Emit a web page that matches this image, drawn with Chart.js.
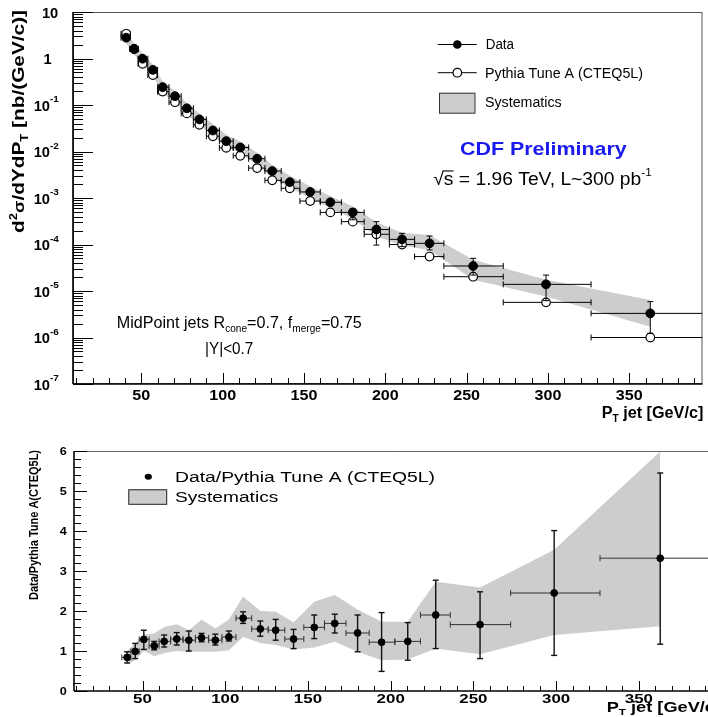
<!DOCTYPE html>
<html>
<head>
<meta charset="utf-8">
<script src="https://cdn.jsdelivr.net/npm/chart.js@4.4.1/dist/chart.umd.min.js"></script>
<style>
  html, body { margin: 0; padding: 0; background: #fff; overflow: hidden; width: 708px; height: 717px; }
  canvas { position: absolute; left: 0; }
  #xsec { top: 0; }
  #ratio { top: 436px; }
</style>
</head>
<body>
<canvas id="xsec" width="708" height="432"></canvas>
<canvas id="ratio" width="720" height="281"></canvas>
<script>
// jet pT bins [GeV/c]
const binCenters = [40.7, 45.6, 50.8, 57.1, 63.1, 70.7, 78.0, 85.7, 94.0, 102.2, 110.8, 121.2, 130.5, 141.3, 153.8, 166.2, 180.0, 194.5, 210.3, 227.2, 254.0, 298.8, 362.9];
const binEdges = [37.5, 43, 48, 54, 60, 67, 74.5, 82, 90, 98, 106.5, 116, 126, 136, 147.5, 160, 173, 187, 202.5, 218, 236, 272.5, 326.5, 400];

// d2sigma/dYdPT [nb/(GeV/c)]
const dataXsec = [2.8, 1.6, 0.99, 0.57, 0.243, 0.155, 0.085, 0.049, 0.0283, 0.0167, 0.0122, 0.0070, 0.0038, 0.0022, 0.00135, 8.1e-4, 4.9e-4, 2.1e-4, 1.29e-4, 1.06e-4, 3.45e-5, 1.39e-5, 3.3e-6];
const dataXsecHigh = [2.95, 1.68, 1.04, 0.6, 0.256, 0.163, 0.09, 0.052, 0.030, 0.0178, 0.013, 0.0075, 0.0041, 0.0024, 0.00148, 9.0e-4, 5.9e-4, 3.1e-4, 1.74e-4, 1.52e-4, 5.05e-5, 2.2e-5, 5.9e-6];
const dataXsecLow = [2.65, 1.52, 0.94, 0.54, 0.23, 0.147, 0.08, 0.046, 0.0266, 0.0156, 0.0114, 0.0065, 0.0035, 0.002, 0.00122, 7.2e-4, 3.4e-4, 9.7e-5, 9.0e-5, 7.6e-5, 2.2e-5, 6.2e-6, 1.23e-6];
const pythiaXsec = [3.4, 1.6, 0.77, 0.44, 0.194, 0.115, 0.066, 0.0375, 0.0213, 0.012, 0.0081, 0.0044, 0.0024, 0.00162, 8.6e-4, 4.9e-4, 3.1e-4, 1.66e-4, 1.0e-4, 5.5e-5, 2.03e-5, 5.7e-6, 1.0e-6];
const systXsecHigh = [3.6, 2.1, 1.3, 0.75, 0.32, 0.2, 0.11, 0.066, 0.039, 0.023, 0.0165, 0.0094, 0.0051, 0.003, 0.0018, 1.1e-3, 6.6e-4, 3.0e-4, 1.8e-4, 1.6e-4, 4.7e-5, 1.75e-5, 6.4e-6];
const systXsecLow = [2.1, 1.2, 0.73, 0.42, 0.18, 0.113, 0.062, 0.037, 0.0217, 0.0128, 0.0092, 0.0052, 0.0028, 0.00165, 0.001, 6.0e-4, 3.6e-4, 1.5e-4, 9.5e-5, 7.6e-5, 1.75e-5, 7.6e-6, 1.7e-6];

// Data / Pythia Tune A
const ratio = [0.84, 0.99, 1.29, 1.13, 1.24, 1.30, 1.27, 1.33, 1.27, 1.35, 1.82, 1.55, 1.52, 1.30, 1.59, 1.69, 1.45, 1.22, 1.24, 1.90, 1.66, 2.45, 3.32];
const ratioHigh = [0.98, 1.19, 1.52, 1.24, 1.40, 1.46, 1.50, 1.44, 1.42, 1.50, 1.98, 1.75, 1.79, 1.54, 1.90, 1.92, 1.90, 1.96, 1.71, 2.77, 2.48, 4.01, 5.45];
const ratioLow = [0.70, 0.81, 1.04, 1.03, 1.10, 1.15, 1.00, 1.23, 1.15, 1.25, 1.69, 1.37, 1.27, 1.06, 1.31, 1.45, 0.98, 0.49, 0.77, 1.06, 0.81, 0.89, 1.17];
const systRatioHigh = [1.0, 1.2, 1.41, 1.44, 1.60, 1.67, 1.52, 1.79, 1.56, 1.79, 2.36, 2.0, 1.98, 1.72, 2.23, 2.40, 2.04, 1.73, 1.73, 2.73, 2.59, 3.53, 5.99];
const systRatioLow = [0.67, 0.77, 1.0, 0.87, 0.95, 1.0, 0.98, 0.98, 0.98, 1.02, 1.35, 1.2, 1.15, 1.04, 1.09, 1.23, 0.98, 0.77, 0.79, 1.06, 0.92, 1.40, 1.62];

// axis labels
const xTickLabels = [50, 100, 150, 200, 250, 300, 350];
const logDecades = [-7, -6, -5, -4, -3, -2, -1, 0, 1];
const ratioTickLabels = [0, 1, 2, 3, 4, 5, 6];

const FONT = '"Liberation Sans", Arial, Helvetica, sans-serif';
const BAND = '#cdcdcd';

const T = (t, size, bold, dy, over) => ({ t, size, bold, dy, over });
const font = s => `${s.bold ? 'bold ' : ''}${s.size}px ${FONT}`;
const pts = vals => binCenters.map((x, i) => ({ x, y: vals[i] }));

function seg(ctx, x0, y0, x1, y1) {
  ctx.beginPath();
  ctx.moveTo(x0, y0);
  ctx.lineTo(x1, y1);
  ctx.stroke();
}

// draw a run of text pieces (sub/superscripts), optionally squeezed to a width
function drawRich(ctx, segs, x, y, o = {}) {
  ctx.save();
  let total = 0;
  segs.forEach(s => { ctx.font = font(s); s.w = ctx.measureText(s.t).width; total += s.w; });
  const sx = o.width ? o.width / total : (o.sx || 1);
  ctx.translate(x, y);
  if (o.rot) ctx.rotate(o.rot);
  ctx.scale(sx, 1);
  let cx = o.align === 'right' ? -total : o.align === 'center' ? -total / 2 : 0;
  ctx.fillStyle = o.color || '#000';
  ctx.strokeStyle = o.color || '#000';
  ctx.textBaseline = 'alphabetic';
  ctx.textAlign = 'left';
  segs.forEach(s => {
    ctx.font = font(s);
    ctx.fillText(s.t, cx, s.dy || 0);
    if (s.over) {
      ctx.lineWidth = 1.1;
      seg(ctx, cx - 1, -s.size * 0.78, cx + s.w, -s.size * 0.78);
    }
    cx += s.w;
  });
  ctx.restore();
}

const errorBars = {
  id: 'errorBars',
  beforeDatasetDraw(chart, args) {
    const ds = chart.data.datasets[args.index];
    const e = ds.err;
    if (!e) return;
    const { ctx, chartArea: a, scales: { x, y } } = chart;
    ctx.save();
    ctx.beginPath();
    ctx.rect(a.left, a.top, a.right - a.left, a.bottom - a.top);
    ctx.clip();
    ds.data.forEach((p, i) => {
      const px = x.getPixelForValue(p.x);
      const py = y.getPixelForValue(p.y);
      const x0 = x.getPixelForValue(binEdges[i]);
      const x1 = x.getPixelForValue(binEdges[i + 1]);
      ctx.strokeStyle = e.hColor;
      ctx.lineWidth = e.hWidth;
      seg(ctx, x0, py, x1, py);
      seg(ctx, x0, py - e.cap, x0, py + e.cap);
      seg(ctx, x1, py - e.cap, x1, py + e.cap);
      if (e.low) {
        const y0 = y.getPixelForValue(e.low[i]);
        const y1 = y.getPixelForValue(e.high[i]);
        ctx.strokeStyle = e.vColor;
        ctx.lineWidth = e.vWidth;
        seg(ctx, px, y0, px, y1);
        seg(ctx, px - e.cap, y0, px + e.cap, y0);
        seg(ctx, px - e.cap, y1, px + e.cap, y1);
      }
    });
    ctx.restore();
  }
};

function drawXsecDecor(chart) {
  const { ctx, chartArea: a, scales: { x, y } } = chart;
  ctx.save();
  ctx.strokeStyle = '#555';
  ctx.lineWidth = 1;
  ctx.strokeRect(a.left + 0.5, a.top + 0.5, a.right - a.left - 1, a.bottom - a.top - 1);

  ctx.strokeStyle = '#000';
  ctx.lineWidth = 1;
  for (let v = 10; v < 395; v += 10) {
    const px = Math.round(x.getPixelForValue(v)) + 0.5;
    seg(ctx, px, a.bottom, px, a.bottom - (v % 50 ? 6 : 11));
  }
  logDecades.forEach(d => {
    for (let k = 1; k <= 9; k++) {
      const v = k * Math.pow(10, d);
      if (v > 10.001) break;
      const py = Math.round(y.getPixelForValue(v)) + 0.5;
      seg(ctx, a.left, py, a.left + (k === 1 ? 20 : 10), py);
    }
  });
  ctx.lineWidth = 1.6;
  seg(ctx, a.left, a.top, a.left, a.bottom);
  seg(ctx, a.left, a.bottom, a.right, a.bottom);

  // tick labels
  xTickLabels.forEach(v => {
    drawRich(ctx, [T(String(v), 14, true)], x.getPixelForValue(v), 400, { align: 'center', sx: 1.15 });
  });
  logDecades.forEach(d => {
    const py = y.getPixelForValue(Math.pow(10, d));
    if (d === 1) {
      drawRich(ctx, [T('10', 14, true)], 58.3, py + 5.5, { align: 'right', sx: 1.05 });
    } else if (d === 0) {
      drawRich(ctx, [T('1', 14, true)], 51.7, py + 5.3, { align: 'right', sx: 1.05 });
    } else {
      drawRich(ctx, [T('10', 14, true)], 50, py + 5.5, { align: 'right', sx: 1.05 });
      drawRich(ctx, [T(String(d), 9.5, true)], 50, py - 3, { sx: 1.05 });
    }
  });

  // axis titles
  drawRich(ctx, [T('P', 16, true), T('T', 10, true, 4), T(' jet [GeV/c]', 16, true)], 601.7, 418, { width: 101.6 });
  drawRich(ctx, [T('d', 16, true), T('2', 10, true, -7), T('σ', 14, true), T('/dYdP', 16, true), T('T', 10, true, 4), T(' [nb/(GeV/c)]', 16, true)],
    24, 233, { rot: -Math.PI / 2, width: 223 });

  // legend
  ctx.strokeStyle = '#000';
  ctx.lineWidth = 1;
  seg(ctx, 437.7, 44.5, 476.7, 44.5);
  seg(ctx, 437.7, 72.7, 476.7, 72.7);
  ctx.fillStyle = '#000';
  ctx.beginPath(); ctx.arc(457.3, 44.5, 4.3, 0, Math.PI * 2); ctx.fill();
  ctx.fillStyle = '#fff';
  ctx.lineWidth = 1.2;
  ctx.beginPath(); ctx.arc(457.3, 72.7, 4.3, 0, Math.PI * 2); ctx.fill(); ctx.stroke();
  ctx.fillStyle = BAND;
  ctx.fillRect(439, 92.7, 36, 20.6);
  ctx.strokeStyle = '#333';
  ctx.lineWidth = 1;
  ctx.strokeRect(439.5, 93.2, 35.5, 20);
  drawRich(ctx, [T('Data', 14)], 485.7, 49.3, { width: 28.3 });
  drawRich(ctx, [T('Pythia Tune A (CTEQ5L)', 14)], 485, 78.3, { width: 158 });
  drawRich(ctx, [T('Systematics', 14)], 485, 106.7, { width: 76.7 });

  // annotations
  drawRich(ctx, [T('CDF Preliminary', 18.6, true)], 460, 155, { width: 166.7, color: '#1a1aee' });
  drawRich(ctx, [T('√', 18), T('s', 18, false, 0, true), T(' = 1.96 TeV, L~300 pb', 18), T('-1', 11, false, -9)], 433.3, 185, { width: 218.4 });
  drawRich(ctx, [T('MidPoint jets R', 16), T('cone', 10, false, 4), T('=0.7, f', 16), T('merge', 10, false, 4), T('=0.75', 16)], 116.7, 328.3, { width: 245 });
  drawRich(ctx, [T('|Y|<0.7', 16)], 205, 354, { width: 48.3 });
  ctx.restore();
}

function drawRatioDecor(chart) {
  const { ctx, chartArea: a, scales: { x, y } } = chart;
  ctx.save();
  ctx.strokeStyle = '#666';
  ctx.lineWidth = 1;
  seg(ctx, a.left, a.top + 0.5, a.right, a.top + 0.5);

  ctx.strokeStyle = '#000';
  for (let v = 10; v < 396; v += 10) {
    const px = Math.round(x.getPixelForValue(v)) + 0.5;
    seg(ctx, px, a.bottom, px, a.bottom - (v % 50 ? 5 : 10));
  }
  for (let k = 0; k <= 30; k++) {
    const py = Math.round(y.getPixelForValue(k * 0.2)) + 0.5;
    seg(ctx, a.left, py, a.left + (k % 5 ? 7 : 13), py);
  }
  ctx.lineWidth = 1.6;
  seg(ctx, a.left, a.top, a.left, a.bottom);
  seg(ctx, a.left, a.bottom, a.right, a.bottom);

  xTickLabels.forEach(v => {
    drawRich(ctx, [T(String(v), 13, true)], x.getPixelForValue(v), 703.3 - 436, { align: 'center', sx: 1.3 });
  });
  ratioTickLabels.forEach(v => {
    drawRich(ctx, [T(String(v), 11.5, true)], 66.7, y.getPixelForValue(v) + 4, { align: 'right', sx: 1.1 });
  });

  drawRich(ctx, [T('P', 14, true), T('T', 9, true, 3.5), T(' jet [GeV/c]', 14, true)], 606.7, 711.7 - 436, { sx: 1.3 });
  drawRich(ctx, [T('Data/Pythia Tune A(CTEQ5L)', 13, true)], 37.5, 600 - 436, { rot: -Math.PI / 2, width: 150 });

  // legend
  ctx.fillStyle = '#000';
  ctx.beginPath(); ctx.ellipse(148.3, 476.7 - 436, 3.6, 3, 0, 0, Math.PI * 2); ctx.fill();
  ctx.fillStyle = BAND;
  ctx.fillRect(128.3, 489.3 - 436, 38.4, 15);
  ctx.strokeStyle = '#222';
  ctx.lineWidth = 1;
  ctx.strokeRect(128.8, 489.8 - 436, 37.9, 14.5);
  drawRich(ctx, [T('Data/Pythia Tune A (CTEQ5L)', 14)], 175, 481.7 - 436, { width: 260 });
  drawRich(ctx, [T('Systematics', 14)], 175, 501.7 - 436, { width: 103.3 });
  ctx.restore();
}

const bandLine = { showLine: true, pointRadius: 0, borderWidth: 0, borderColor: 'rgba(0,0,0,0)', tension: 0 };

new Chart(document.getElementById('xsec'), {
  type: 'scatter',
  data: {
    datasets: [
      { ...bandLine, label: 'syst low', data: pts(systXsecLow), fill: false, order: 4 },
      { ...bandLine, label: 'Systematics', data: pts(systXsecHigh), fill: '-1', backgroundColor: BAND, order: 3 },
      {
        label: 'Pythia Tune A (CTEQ5L)', data: pts(pythiaXsec), order: 2,
        pointRadius: 4.3, pointBackgroundColor: '#fff', pointBorderColor: '#000', pointBorderWidth: 1.2,
        err: { hColor: '#000', hWidth: 1, cap: 3 }
      },
      {
        label: 'Data', data: pts(dataXsec), order: 1,
        pointRadius: 4.4, pointBackgroundColor: '#000', pointBorderColor: '#000', pointBorderWidth: 1,
        err: { hColor: '#000', hWidth: 1, vColor: '#000', vWidth: 1, cap: 3, low: dataXsecLow, high: dataXsecHigh }
      }
    ]
  },
  options: {
    responsive: false,
    animation: false,
    devicePixelRatio: 1,
    layout: { padding: { left: 73, top: 12, right: 1, bottom: 48 } },
    plugins: { legend: { display: false }, tooltip: { enabled: false } },
    scales: {
      x: { type: 'linear', min: 8, max: 395, display: false },
      y: { type: 'logarithmic', min: 1e-7, max: 10, display: false }
    }
  },
  plugins: [errorBars, { id: 'xsecDecor', afterDraw: drawXsecDecor }]
});

new Chart(document.getElementById('ratio'), {
  type: 'scatter',
  data: {
    datasets: [
      { ...bandLine, label: 'syst low', data: pts(systRatioLow), fill: false, order: 3 },
      { ...bandLine, label: 'Systematics', data: pts(systRatioHigh), fill: '-1', backgroundColor: BAND, order: 2 },
      {
        label: 'Data/Pythia Tune A (CTEQ5L)', data: pts(ratio), order: 1,
        pointRadius: 3.4, pointBackgroundColor: '#000', pointBorderColor: '#000', pointBorderWidth: 1,
        err: { hColor: '#333', hWidth: 1, vColor: '#111', vWidth: 1.4, cap: 3, low: ratioLow, high: ratioHigh }
      }
    ]
  },
  options: {
    responsive: false,
    animation: false,
    devicePixelRatio: 1,
    layout: { padding: { left: 74, top: 15, right: 3, bottom: 26 } },
    plugins: { legend: { display: false }, tooltip: { enabled: false } },
    scales: {
      x: { type: 'linear', min: 8.6, max: 396, display: false },
      y: { type: 'linear', min: 0, max: 6, display: false }
    }
  },
  plugins: [errorBars, { id: 'ratioDecor', afterDraw: drawRatioDecor }]
});
</script>
</body>
</html>
